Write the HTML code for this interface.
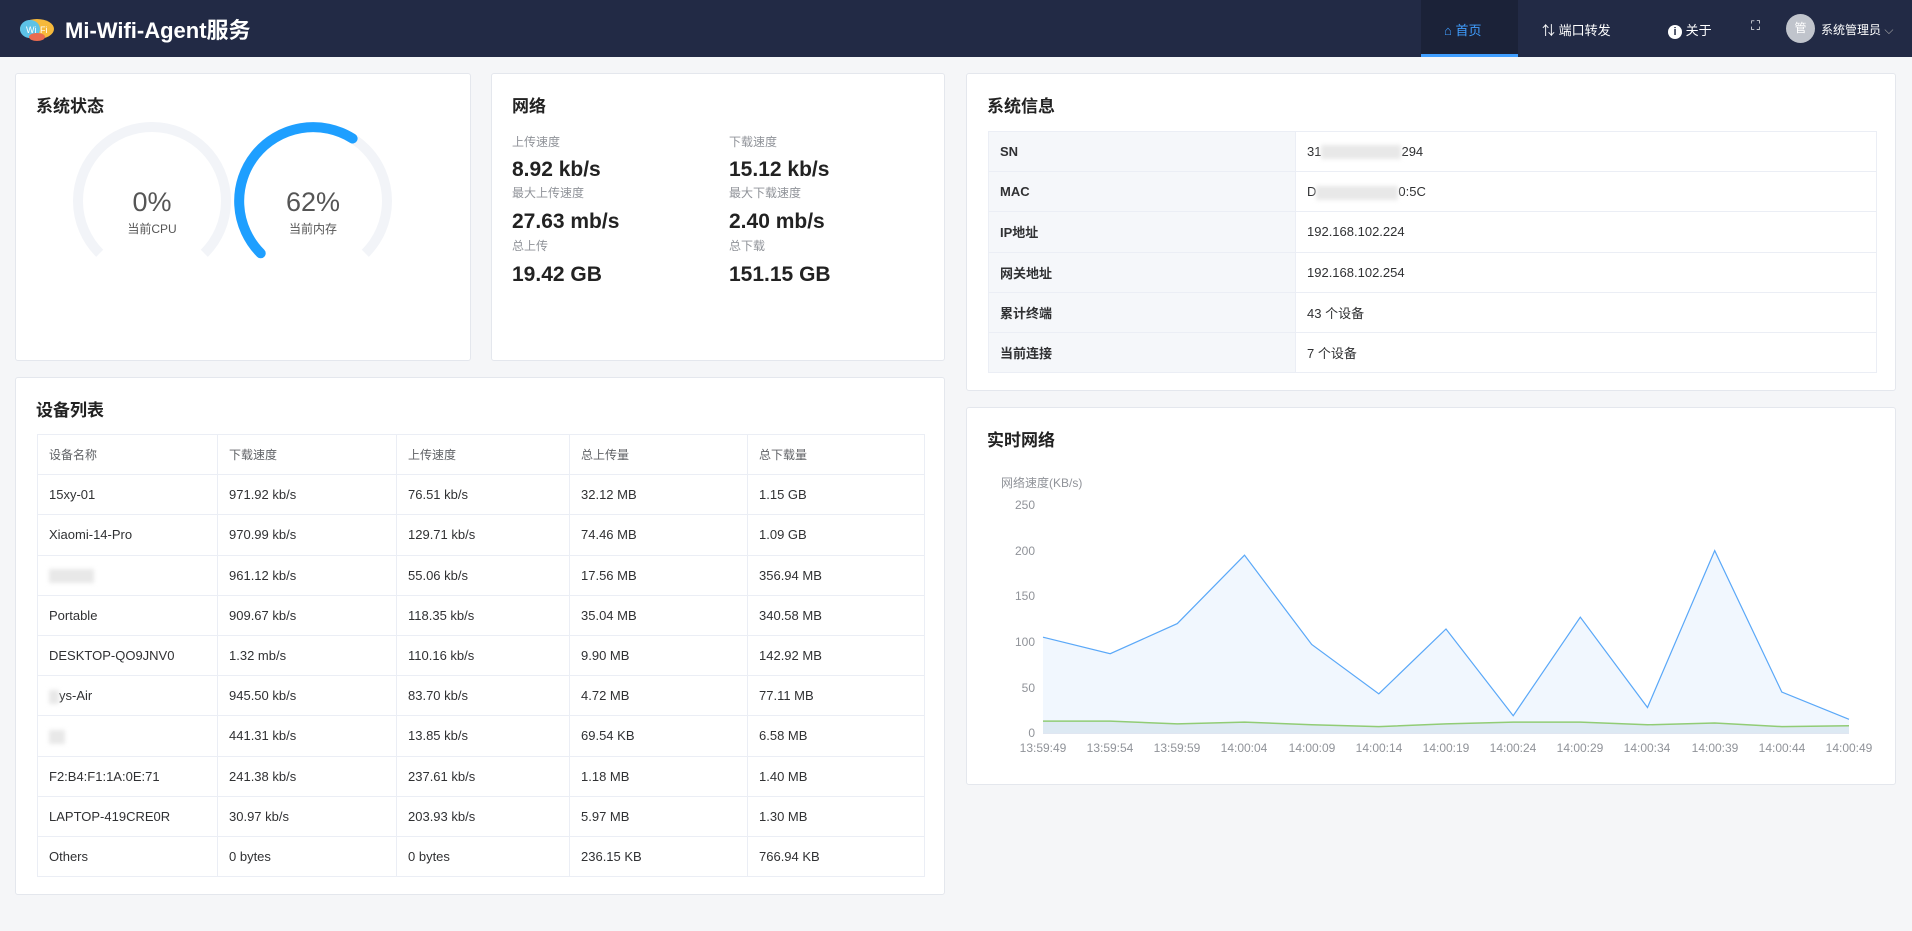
<!DOCTYPE html>
<html><head><meta charset="utf-8"><style>
*{margin:0;padding:0;box-sizing:border-box}
body{width:1912px;height:931px;background:#f5f6f8;font-family:"Liberation Sans","Noto Sans CJK SC",sans-serif;position:relative;overflow:hidden;color:#303133}
.a{position:absolute;white-space:nowrap}
.hdr{position:absolute;left:0;top:0;width:1912px;height:57px;background:#222a45}
.card{position:absolute;background:#fff;border:1px solid #e4e7ed;border-radius:3px}
.ct{position:absolute;left:20px;top:18px;font-size:17px;font-weight:bold;color:#222}
.lbl{font-size:12px;color:#909399}
.val{font-size:21px;font-weight:bold;color:#222}
table{border-collapse:collapse;position:absolute}
td{border:1px solid #ebeef5;font-size:13px;color:#303133;padding-left:11px;height:40.2px}
.blur{display:inline-block;background:#e8e8e8;filter:blur(2px);height:14px;vertical-align:middle}
</style></head><body>
<div class="hdr"></div>
<svg class="a" style="left:18px;top:13px" width="38" height="30" viewBox="0 0 38 30">
<ellipse cx="19" cy="16" rx="17" ry="10" fill="#f6b93b"/><ellipse cx="12" cy="16" rx="10" ry="9" fill="#5dc2e6"/><ellipse cx="19" cy="24" rx="8" ry="4" fill="#e86b50"/>
<text x="8" y="20" font-size="9" fill="#fff" font-family="Liberation Sans">Wi</text><text x="22" y="20" font-size="9" fill="#fff" font-family="Liberation Sans">Fi</text></svg>
<div class="a" style="left:65px;top:13px;font-size:22px;font-weight:bold;color:#fff">Mi-Wifi-Agent服务</div>
<div class="a" style="left:1421px;top:0;width:97px;height:57px;background:#1b2238;border-bottom:3px solid #409eff"></div>
<div class="a" style="left:1444px;top:20px;font-size:13px;color:#409eff">⌂ 首页</div>
<div class="a" style="left:1542px;top:20px;font-size:13px;color:#fff">⇅ 端口转发</div>
<div class="a" style="left:1668px;top:20px;font-size:13px;color:#fff"><span style="display:inline-block;width:14px;height:14px;border-radius:50%;background:#fff;color:#222a45;font-size:11px;text-align:center;line-height:14px;font-weight:bold">i</span> 关于</div>
<div class="a" style="left:1751px;top:18px;font-size:13px;color:#fff">⛶</div>
<div class="a" style="left:1786px;top:14px;width:29px;height:29px;border-radius:50%;background:#c0c4cc;color:#fff;font-size:12px;text-align:center;line-height:29px">管</div>
<div class="a" style="left:1821px;top:21px;font-size:12px;color:#fff">系统管理员 <span style="color:#aaa">⌵</span></div>

<div class="card" style="left:15px;top:73px;width:456px;height:288px"><div class="ct">系统状态</div></div>
<div class="card" style="left:491px;top:73px;width:454px;height:288px"><div class="ct">网络</div>
<div class="a lbl" style="left:20px;top:59px">上传速度</div><div class="a val" style="left:20px;top:84px">8.92 kb/s</div>
<div class="a lbl" style="left:20px;top:110px">最大上传速度</div><div class="a val" style="left:20px;top:136px">27.63 mb/s</div>
<div class="a lbl" style="left:20px;top:163px">总上传</div><div class="a val" style="left:20px;top:189px">19.42 GB</div>
<div class="a lbl" style="left:237px;top:59px">下载速度</div><div class="a val" style="left:237px;top:84px">15.12 kb/s</div>
<div class="a lbl" style="left:237px;top:110px">最大下载速度</div><div class="a val" style="left:237px;top:136px">2.40 mb/s</div>
<div class="a lbl" style="left:237px;top:163px">总下载</div><div class="a val" style="left:237px;top:189px">151.15 GB</div>
</div>
<svg class="a" style="left:0;top:0" width="480" height="370">
<path d="M99.7 253.3 A74 74 0 1 1 204.3 253.3" fill="none" stroke="#f2f4f8" stroke-width="10"/>
<path d="M260.7 253.3 A74 74 0 1 1 365.3 253.3" fill="none" stroke="#f2f4f8" stroke-width="10"/>
<path d="M260.7 253.3 A74 74 0 0 1 352.6 138.5" fill="none" stroke="#1e9fff" stroke-width="10" stroke-linecap="round"/>
<text x="152" y="211" font-size="27" fill="#555" text-anchor="middle" font-family="Liberation Sans">0%</text>
<text x="152" y="233" font-size="12" fill="#555" text-anchor="middle" font-family="Liberation Sans,Noto Sans CJK SC">当前CPU</text>
<text x="313" y="211" font-size="27" fill="#555" text-anchor="middle" font-family="Liberation Sans">62%</text>
<text x="313" y="233" font-size="12" fill="#555" text-anchor="middle" font-family="Liberation Sans,Noto Sans CJK SC">当前内存</text>
</svg>

<div class="card" style="left:15px;top:377px;width:930px;height:518px"><div class="ct">设备列表</div>
<table style="left:21px;top:56px;width:888px">
<colgroup><col style="width:180px"><col style="width:179px"><col style="width:173px"><col style="width:178px"><col></colgroup>
<tr style="color:#909399"><td style="color:#606266;font-size:12px">设备名称</td><td style="color:#606266;font-size:12px">下载速度</td><td style="color:#606266;font-size:12px">上传速度</td><td style="color:#606266;font-size:12px">总上传量</td><td style="color:#606266;font-size:12px">总下载量</td></tr>
<tr><td>15xy-01</td><td>971.92 kb/s</td><td>76.51 kb/s</td><td>32.12 MB</td><td>1.15 GB</td></tr>
<tr><td>Xiaomi-14-Pro</td><td>970.99 kb/s</td><td>129.71 kb/s</td><td>74.46 MB</td><td>1.09 GB</td></tr>
<tr><td><span class="blur" style="width:45px"></span></td><td>961.12 kb/s</td><td>55.06 kb/s</td><td>17.56 MB</td><td>356.94 MB</td></tr>
<tr><td>Portable</td><td>909.67 kb/s</td><td>118.35 kb/s</td><td>35.04 MB</td><td>340.58 MB</td></tr>
<tr><td>DESKTOP-QO9JNV0</td><td>1.32 mb/s</td><td>110.16 kb/s</td><td>9.90 MB</td><td>142.92 MB</td></tr>
<tr><td><span class="blur" style="width:10px"></span>ys-Air</td><td>945.50 kb/s</td><td>83.70 kb/s</td><td>4.72 MB</td><td>77.11 MB</td></tr>
<tr><td><span class="blur" style="width:16px"></span></td><td>441.31 kb/s</td><td>13.85 kb/s</td><td>69.54 KB</td><td>6.58 MB</td></tr>
<tr><td>F2:B4:F1:1A:0E:71</td><td>241.38 kb/s</td><td>237.61 kb/s</td><td>1.18 MB</td><td>1.40 MB</td></tr>
<tr><td>LAPTOP-419CRE0R</td><td>30.97 kb/s</td><td>203.93 kb/s</td><td>5.97 MB</td><td>1.30 MB</td></tr>
<tr><td>Others</td><td>0 bytes</td><td>0 bytes</td><td>236.15 KB</td><td>766.94 KB</td></tr>
</table></div>

<div class="card" style="left:966px;top:73px;width:930px;height:318px"><div class="ct">系统信息</div>
<table style="left:21px;top:57px;width:889px">
<colgroup><col style="width:307px"><col></colgroup>
<tr><td style="background:#f5f7fa;font-weight:bold">SN</td><td>31<span class="blur" style="width:80px"></span>294</td></tr>
<tr><td style="background:#f5f7fa;font-weight:bold">MAC</td><td>D<span class="blur" style="width:82px"></span>0:5C</td></tr>
<tr><td style="background:#f5f7fa;font-weight:bold">IP地址</td><td>192.168.102.224</td></tr>
<tr><td style="background:#f5f7fa;font-weight:bold">网关地址</td><td>192.168.102.254</td></tr>
<tr><td style="background:#f5f7fa;font-weight:bold">累计终端</td><td>43 个设备</td></tr>
<tr><td style="background:#f5f7fa;font-weight:bold">当前连接</td><td>7 个设备</td></tr>
</table></div>

<div class="card" style="left:966px;top:407px;width:930px;height:378px"><div class="ct">实时网络</div></div>
<svg class="a" style="left:0;top:0" width="1912" height="931" font-family="Liberation Sans,Noto Sans CJK SC" font-size="12" fill="#909399">
<text x="1001" y="487">网络速度(KB/s)</text>
<g text-anchor="end"><text x="1035" y="509">250</text><text x="1035" y="555">200</text><text x="1035" y="600">150</text><text x="1035" y="646">100</text><text x="1035" y="692">50</text><text x="1035" y="737">0</text></g>
<path d="M1043 637.2 L1110.2 653.7 L1177.3 623.6 L1244.5 555.2 L1311.7 644.5 L1378.8 693.8 L1446 629.0 L1513.2 715.7 L1580.3 617.2 L1647.5 707.5 L1714.7 550.6 L1781.8 692.0 L1849 719.3 L1849 733 L1043 733Z" fill="#eef6fe" opacity="0.85"/>
<path d="M1043 637.2 L1110.2 653.7 L1177.3 623.6 L1244.5 555.2 L1311.7 644.5 L1378.8 693.8 L1446 629.0 L1513.2 715.7 L1580.3 617.2 L1647.5 707.5 L1714.7 550.6 L1781.8 692.0 L1849 719.3" fill="none" stroke="#5aa8f8" stroke-width="1.2"/>
<path d="M1043 721.1 L1110.2 721.1 L1177.3 723.9 L1244.5 722.1 L1311.7 724.8 L1378.8 726.6 L1446 723.9 L1513.2 722.1 L1580.3 722.1 L1647.5 724.8 L1714.7 723 L1781.8 726.6 L1849 725.7 L1849 733 L1043 733Z" fill="#dde9f3"/>
<path d="M1043 721.1 L1110.2 721.1 L1177.3 723.9 L1244.5 722.1 L1311.7 724.8 L1378.8 726.6 L1446 723.9 L1513.2 722.1 L1580.3 722.1 L1647.5 724.8 L1714.7 723 L1781.8 726.6 L1849 725.7" fill="none" stroke="#91cc75" stroke-width="1.5"/>
<line x1="1043" y1="733.5" x2="1849" y2="733.5" stroke="#e0e6f1"/>
<g text-anchor="middle"><text x="1043" y="752">13:59:49</text><text x="1110" y="752">13:59:54</text><text x="1177" y="752">13:59:59</text><text x="1244" y="752">14:00:04</text><text x="1312" y="752">14:00:09</text><text x="1379" y="752">14:00:14</text><text x="1446" y="752">14:00:19</text><text x="1513" y="752">14:00:24</text><text x="1580" y="752">14:00:29</text><text x="1647" y="752">14:00:34</text><text x="1715" y="752">14:00:39</text><text x="1782" y="752">14:00:44</text><text x="1849" y="752">14:00:49</text></g>
</svg>
</body></html>
